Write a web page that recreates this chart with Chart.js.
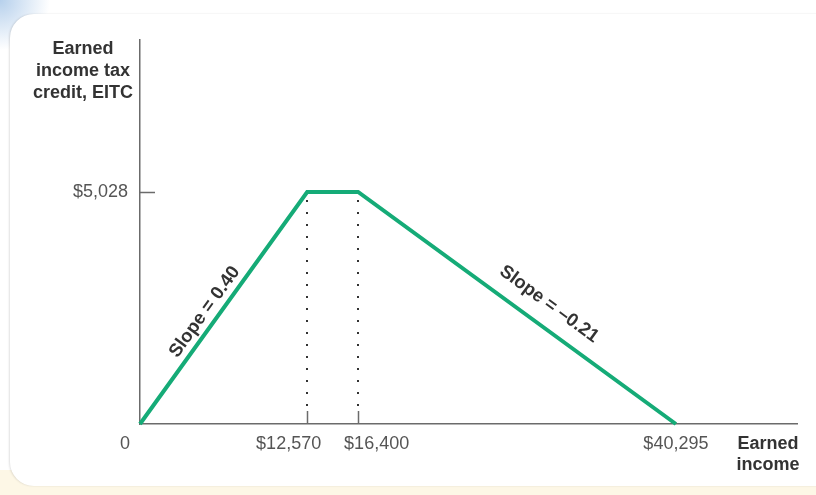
<!DOCTYPE html>
<html>
<head>
<meta charset="utf-8">
<script src="https://cdn.jsdelivr.net/npm/chart.js@4.4.1/dist/chart.umd.min.js"></script>
<style>
  html, body { margin: 0; padding: 0; }
  body {
    width: 816px; height: 495px; overflow: hidden; position: relative;
    background: radial-gradient(circle at 0 0, #b6d0ec 0, #ffffff 50px), #ffffff;
  }
  .bottom { position: absolute; left: 0; top: 470px; width: 816px; height: 25px; background: #fdf7e6; }
  .card {
    position: absolute; left: 10px; top: 14px; width: 840px; height: 472px;
    background: #fff; border-radius: 24px; box-shadow: -1px 0 2px rgba(0,0,0,0.12);
  }
  #wrap { position: absolute; left: 0; top: 0; width: 816px; height: 495px; }
</style>
</head>
<body>
<div class="bottom"></div>
<div class="card"></div>
<div id="wrap"><canvas id="myChart"></canvas></div>
<script>
// data
const incomeValues = [0, 12570, 16400, 40295];
const eitcValues = [0, 5028, 5028, 0];
const xTickValues = [0, 12570, 16400, 40295];
const xTickLabels = ['0', '$12,570', '$16,400', '$40,295'];
const yTickValues = [5028];
const yTickLabels = ['$5,028'];
const slopeLabels = ['Slope = 0.40', 'Slope = \u20130.21'];

const green = '#15ab77';
const axisGrey = '#6b6b6b';
const labelFont = '18px "Liberation Sans", Arial, sans-serif';
const boldFont = 'bold 18px "Liberation Sans", Arial, sans-serif';
const slopeFont = 'bold 18.5px "Liberation Sans", Arial, sans-serif';

const points = incomeValues.map(function(v, i) { return { x: v, y: eitcValues[i] }; });

const extras = {
  id: 'extras',
  beforeDatasetsDraw: function(chart) {
    const ctx = chart.ctx;
    const xs = chart.scales.x, ys = chart.scales.y;
    const base = ys.getPixelForValue(0);
    const top = ys.getPixelForValue(eitcValues[1]);
    // dotted guides under the kinks
    ctx.save();
    ctx.strokeStyle = '#333';
    ctx.lineWidth = 2;
    ctx.setLineDash([2, 10]);
    [incomeValues[1], incomeValues[2]].forEach(function(v) {
      const px = Math.round(xs.getPixelForValue(v));
      ctx.beginPath();
      ctx.moveTo(px, top + 8);
      ctx.lineTo(px, base - 14);
      ctx.stroke();
    });
    ctx.restore();
  },
  afterDatasetsDraw: function(chart) {
    const ctx = chart.ctx;
    const xs = chart.scales.x, ys = chart.scales.y;
    const base = ys.getPixelForValue(0);
    const left = xs.getPixelForValue(0);
    ctx.save();

    // tick marks (inside the plot)
    ctx.strokeStyle = axisGrey;
    ctx.lineWidth = 1.5;
    yTickValues.forEach(function(v) {
      const py = Math.round(ys.getPixelForValue(v)) + 0.5;
      ctx.beginPath(); ctx.moveTo(left, py); ctx.lineTo(left + 15, py); ctx.stroke();
    });
    [xTickValues[1], xTickValues[2]].forEach(function(v) {
      const px = Math.round(xs.getPixelForValue(v)) + 0.5;
      ctx.beginPath(); ctx.moveTo(px, base); ctx.lineTo(px, base - 13); ctx.stroke();
    });

    // tick labels
    ctx.fillStyle = '#555';
    ctx.font = labelFont;
    ctx.textBaseline = 'middle';
    ctx.textAlign = 'right';
    yTickValues.forEach(function(v, i) {
      ctx.fillText(yTickLabels[i], left - 12, ys.getPixelForValue(v));
    });
    const align = ['right', 'right', 'left', 'center'];
    const shift = [-10, 14, -14, 0];
    xTickValues.forEach(function(v, i) {
      ctx.textAlign = align[i];
      ctx.fillText(xTickLabels[i], xs.getPixelForValue(v) + shift[i], base + 20);
    });

    // axis titles
    ctx.fillStyle = '#333';
    ctx.font = boldFont;
    ctx.textAlign = 'center';
    ['Earned', 'income tax', 'credit, EITC'].forEach(function(t, i) {
      ctx.fillText(t, 83, 49 + i * 22);
    });
    ['Earned', 'income'].forEach(function(t, i) {
      ctx.fillText(t, 768, base + 20 + i * 21);
    });

    // slope labels along the sloped segments
    ctx.font = slopeFont;
    const segs = [[0, 1, 0.45, 13], [2, 3, 0.56, 22]];
    segs.forEach(function(s, k) {
      const x0 = xs.getPixelForValue(incomeValues[s[0]]), y0 = ys.getPixelForValue(eitcValues[s[0]]);
      const x1 = xs.getPixelForValue(incomeValues[s[1]]), y1 = ys.getPixelForValue(eitcValues[s[1]]);
      const a = Math.atan2(y1 - y0, x1 - x0);
      let cx = x0 + (x1 - x0) * s[2], cy = y0 + (y1 - y0) * s[2];
      // normal pointing above the line
      let nx = Math.sin(a), ny = -Math.cos(a);
      if (ny > 0) { nx = -nx; ny = -ny; }
      cx += nx * s[3]; cy += ny * s[3];
      ctx.save();
      ctx.translate(cx, cy);
      ctx.rotate(a);
      ctx.textAlign = 'center';
      ctx.textBaseline = 'middle';
      ctx.fillText(slopeLabels[k], 0, 0);
      ctx.restore();
    });
    ctx.restore();
  }
};

document.addEventListener('DOMContentLoaded', function() {
  new Chart(document.getElementById('myChart'), {
    type: 'line',
    data: {
      datasets: [{
        data: points,
        borderColor: green,
        borderWidth: 4,
        pointRadius: 0,
        tension: 0,
        borderJoinStyle: 'miter',
        clip: false
      }]
    },
    options: {
      responsive: true,
      maintainAspectRatio: false,
      animation: false,
      layout: { padding: { left: 140, top: 40, right: 19, bottom: 71 } },
      plugins: { legend: { display: false }, tooltip: { enabled: false } },
      scales: {
        x: {
          type: 'linear', min: 0, max: 49400,
          grid: { display: false, drawTicks: false },
          border: { display: true, color: axisGrey, width: 1.5 },
          ticks: { display: false }
        },
        y: {
          type: 'linear', min: 0, max: 8322,
          grid: { display: false, drawTicks: false },
          border: { display: true, color: axisGrey, width: 1.5 },
          ticks: { display: false }
        }
      }
    },
    plugins: [extras]
  });
});
</script>
</body>
</html>
